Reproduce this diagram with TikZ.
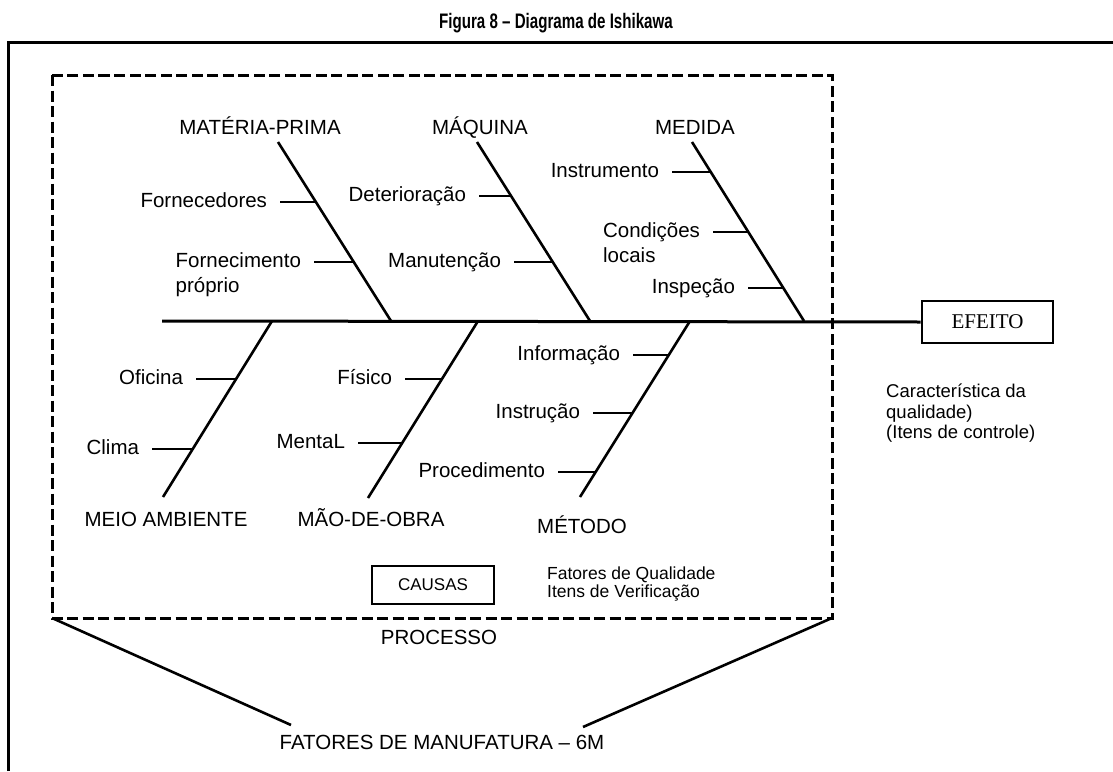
\documentclass[tikz,border=0pt]{standalone}
\usepackage{fontspec}
\setmainfont{Liberation Sans}
\newfontfamily\efeitofont{Liberation Serif}
\usetikzlibrary{calc}
\begin{document}
\begin{tikzpicture}[x=1pt,y=-1pt,
  lab/.style={font=\fontsize{20.5}{25}\selectfont, inner ysep=0pt, inner xsep=0pt,
              outer xsep=13pt, text height=14.5pt, text depth=4pt, anchor=east},
  head/.style={font=\fontsize{20.5}{25}\selectfont, inner sep=0pt, anchor=base},
  bone/.style={line width=2.6pt},
  tick/.style={line width=1.6pt},
  tickbold/.style={line width=2.6pt},
  spine/.style={line width=3pt},
  procbox/.style={line width=3pt, dash pattern=on 11pt off 4.5pt},
  framebox/.style={draw, line width=2.6pt},
]
\useasboundingbox (0,0) rectangle (1113,771);

% title and outer frame
\node[anchor=base, inner sep=0pt] (title) at (556,28)
  {\scalebox{0.72}[1]{\bfseries\fontsize{21}{21}\selectfont Figura 8 – Diagrama de Ishikawa}};
\draw[line width=3pt] (8,771) -- (8,42) -- (1113,42);

% process boundary
\coordinate (pNW) at (52,75);
\coordinate (pSE) at (832,618);
\draw[procbox] (pNW) rectangle (pSE);

% effect and spine
\node[framebox, minimum width=131pt, minimum height=42pt,
      font=\efeitofont\fontsize{21}{21}\selectfont] (efeito) at (987.5,322) {EFEITO};
\coordinate (spL) at (162,321);
\draw[spine] (spL) -- (efeito.west);

% ---- upper bones ----
% Materia-prima
\node[head] (mp) at (260,134) {MATÉRIA-PRIMA};
\coordinate (mpT) at (278,142);
\coordinate (mpB) at (391,321);
\draw[bone] (mpT) -- (mpB);
\node[lab] (forn) at (280,202) {Fornecedores};
\coordinate (fornB) at (315.9,202);
\draw[tick] (forn.east) -- (fornB);
\node[lab] (fp) at (314,262) {Fornecimento};
\node[lab, anchor=base west] (fp2) at ([yshift=-25pt]fp.base west) {próprio};
\coordinate (fpB) at (353.7,262);
\draw[tickbold] (fp.east) -- (fpB);

% Maquina
\node[head] (mq) at (480,134) {MÁQUINA};
\coordinate (mqT) at (477,142);
\coordinate (mqB) at (590,321);
\draw[bone] (mqT) -- (mqB);
\node[lab] (det) at (479,196) {Deterioração};
\coordinate (detB) at (511,196);
\draw[tick] (det.east) -- (detB);
\node[lab] (man) at (514,262) {Manutenção};
\coordinate (manB) at (552.7,262);
\draw[tickbold] (man.east) -- (manB);

% Medida
\node[head] (md) at (695,134) {MEDIDA};
\coordinate (mdT) at (692,142);
\coordinate (mdB) at (804,321);
\draw[bone] (mdT) -- (mdB);
\node[lab] (ins) at (672,172) {Instrumento};
\coordinate (insB) at (710.8,172);
\draw[tick] (ins.east) -- (insB);
\node[lab] (cond) at (713,232) {Condições};
\node[lab, anchor=base west] (cond2) at ([yshift=-25pt]cond.base west) {locais};
\coordinate (condB) at (748,232);
\draw[tick] (cond.east) -- (condB);
\node[lab] (insp) at (748,288) {Inspeção};
\coordinate (inspB) at (783.4,288);
\draw[tick] (insp.east) -- (inspB);

% ---- lower bones ----
% Meio ambiente
\node[head] (ma) at (166,526) {MEIO AMBIENTE};
\coordinate (maT) at (272,321);
\coordinate (maB) at (163,497);
\draw[bone] (maT) -- (maB);
\node[lab] (ofi) at (196,379) {Oficina};
\coordinate (ofiB) at (236,379);
\draw[tickbold] (ofi.east) -- (ofiB);
\node[lab] (cli) at (152,449) {Clima};
\coordinate (cliB) at (192.8,449);
\draw[tickbold] (cli.east) -- (cliB);

% Mao-de-obra
\node[head] (mo) at (371,526) {MÃO-DE-OBRA};
\coordinate (moT) at (478,321);
\coordinate (moB) at (368,498);
\draw[bone] (moT) -- (moB);
\node[lab] (fis) at (405,379) {Físico};
\coordinate (fisB) at (442,379);
\draw[tickbold] (fis.east) -- (fisB);
\node[lab] (men) at (358,443) {MentaL};
\coordinate (menB) at (402,443);
\draw[tickbold] (men.east) -- (menB);

% Metodo
\node[head] (me) at (582,533) {MÉTODO};
\coordinate (meT) at (690,321);
\coordinate (meB) at (580,497);
\draw[bone] (meT) -- (meB);
\node[lab] (inf) at (633,355) {Informação};
\coordinate (infB) at (668.8,355);
\draw[tick] (inf.east) -- (infB);
\node[lab] (ist) at (593,413) {Instrução};
\coordinate (istB) at (632.5,413);
\draw[tickbold] (ist.east) -- (istB);
\node[lab] (proc) at (558,472) {Procedimento};
\coordinate (procB) at (595.6,472);
\draw[tickbold] (proc.east) -- (procB);

% causes box and notes
\node[framebox, minimum width=122pt, minimum height=38pt,
      font=\fontsize{17}{17}\selectfont] (causas) at (433,585) {CAUSAS};
\node[anchor=north west, align=left, inner sep=0pt,
      font=\fontsize{17.5}{18}\selectfont] (fq) at (547,567)
  {Fatores de Qualidade\\Itens de Verificação};
\node[anchor=north west, align=left, inner sep=0pt,
      font=\fontsize{18.5}{20.5}\selectfont] (carac) at (886,384)
  {Característica da\\qualidade)\\(Itens de controle)};

% process label and the funnel to the 6M factors
\node[head] (proc6) at (439,644) {PROCESSO};
\node[head] (fm) at (442,749) {FATORES DE MANUFATURA – 6M};
\coordinate (fmL) at (291,725);
\coordinate (fmR) at (583,727);
\draw[bone] (pNW |- pSE) -- (fmL);
\draw[bone] (pSE) -- (fmR);
\end{tikzpicture}
\end{document}
